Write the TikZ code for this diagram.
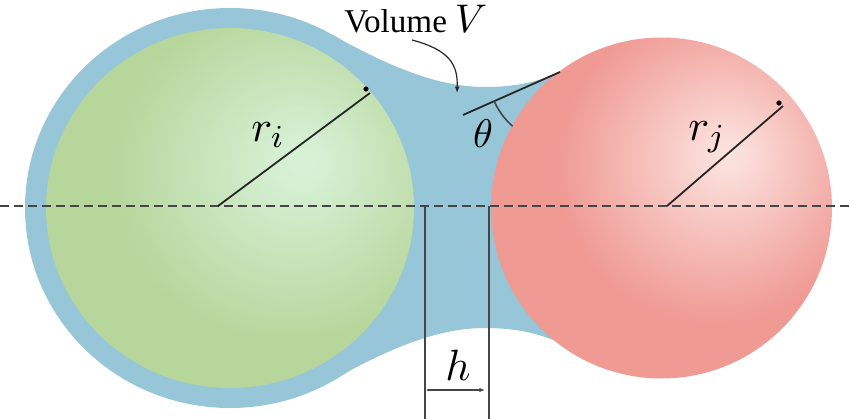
\documentclass[tikz,border=0pt]{standalone}
\usepackage{fontspec}
\newfontfamily\labelfont{Liberation Serif}
\usetikzlibrary{arrows.meta}
\definecolor{liquid}{RGB}{151,198,216}
\definecolor{greenhi}{RGB}{216,242,216}
\definecolor{greenlo}{RGB}{182,214,155}
\definecolor{redhi}{RGB}{252,226,222}
\definecolor{redlo}{RGB}{240,154,148}
\definecolor{linegray}{RGB}{70,70,70}
\pgfdeclareradialshading{greensphere}{\pgfpoint{10bp}{6.5bp}}{color(0bp)=(greenhi); color(3bp)=(greenhi!92!greenlo); color(24bp)=(greenlo); color(100bp)=(greenlo)}
\pgfdeclareradialshading{redsphere}{\pgfpoint{10bp}{8bp}}{color(0bp)=(redhi); color(3bp)=(redhi!92!redlo); color(23bp)=(redlo); color(100bp)=(redlo)}
\begin{document}
\begin{tikzpicture}[x=0.25pt,y=-0.25pt,
  radius line/.style={line width=0.45pt,black!85},
  guide/.style={line width=0.4pt,linegray},
  math label/.style={font=\fontsize{11}{13}\selectfont}]
  \useasboundingbox (0,0) rectangle (851,419);
  % liquid bridge
  \fill[liquid] (230,208) ellipse[x radius=205,y radius=200];
  \fill[liquid] (332.5,34.8) .. controls (392.5,68.6) and (440,87) .. (485,87)
    .. controls (515,87) and (538,82) .. (560,72) -- (600,110) -- (600,305) -- (560,343)
    .. controls (538,333) and (515,328) .. (485,328)
    .. controls (440,328) and (392.5,346.4) .. (332.5,380.2) -- (230,208) -- cycle;
  % spheres
  \shade[shading=greensphere] (230,208) ellipse[x radius=184,y radius=180];
  \shade[shading=redsphere] (661.5,208) circle[radius=170.5];
  \draw[guide,dash pattern=on 2.2pt off 1.3pt] (0,206) -- (851,206);
  % radii
  \coordinate (ci) at (218,206);
  \coordinate (ei) at (370,93);
  \coordinate (cj) at (667,206);
  \coordinate (ej) at (783,106);
  \draw[radius line] (ci) -- (ei);
  \draw[radius line] (cj) -- (ej);
  \fill (366,89) circle[radius=2.6];
  \fill (779,103) circle[radius=2.6];
  \node[math label] (ri) at (268,135) {$r_i$};
  \node[math label] (rj) at (707,137) {$r_j$};
  % contact angle
  \coordinate (contact) at (560,72);
  \coordinate (tanend) at (463,115);
  \draw[radius line] (tanend) -- (contact);
  \draw[guide] (contact) ++(156.1:72) arc[start angle=156.1,end angle=131.1,radius=72];
  \node[font=\fontsize{10}{12}\selectfont] (theta) at (483,134) {$\theta$};
  % gap h
  \coordinate (hL) at (425,206);
  \coordinate (hR) at (489,206);
  \coordinate (hLb) at (425,420);
  \coordinate (hRb) at (489,420);
  \draw[guide] (hL) -- (hLb);
  \draw[guide] (hR) -- (hRb);
  \coordinate (hLa) at (426,390);
  \coordinate (hRa) at (485,390);
  \draw[line width=0.3pt,linegray,{Latex[length=0.8pt,width=0.8pt]}-{Latex[length=1.4pt,width=1.1pt]}] (hLa) -- (hRa);
  \node[math label] (h) at (458,365) {$h$};
  % volume label
  \node[font=\labelfont\fontsize{8.3}{10}\selectfont,anchor=base east,inner xsep=0pt] (vol) at (488,32)
    {Volume\hspace{2pt}{\fontsize{10.2}{12}\selectfont$V$}};
  \coordinate (volstart) at (412,40);
  \coordinate (volpt) at (457,93);
  \draw[line width=0.3pt,black!85,-{Latex[length=1.6pt,width=1.2pt]}] (volstart) .. controls (450,50) and (458,65) .. (volpt);
\end{tikzpicture}
\end{document}
